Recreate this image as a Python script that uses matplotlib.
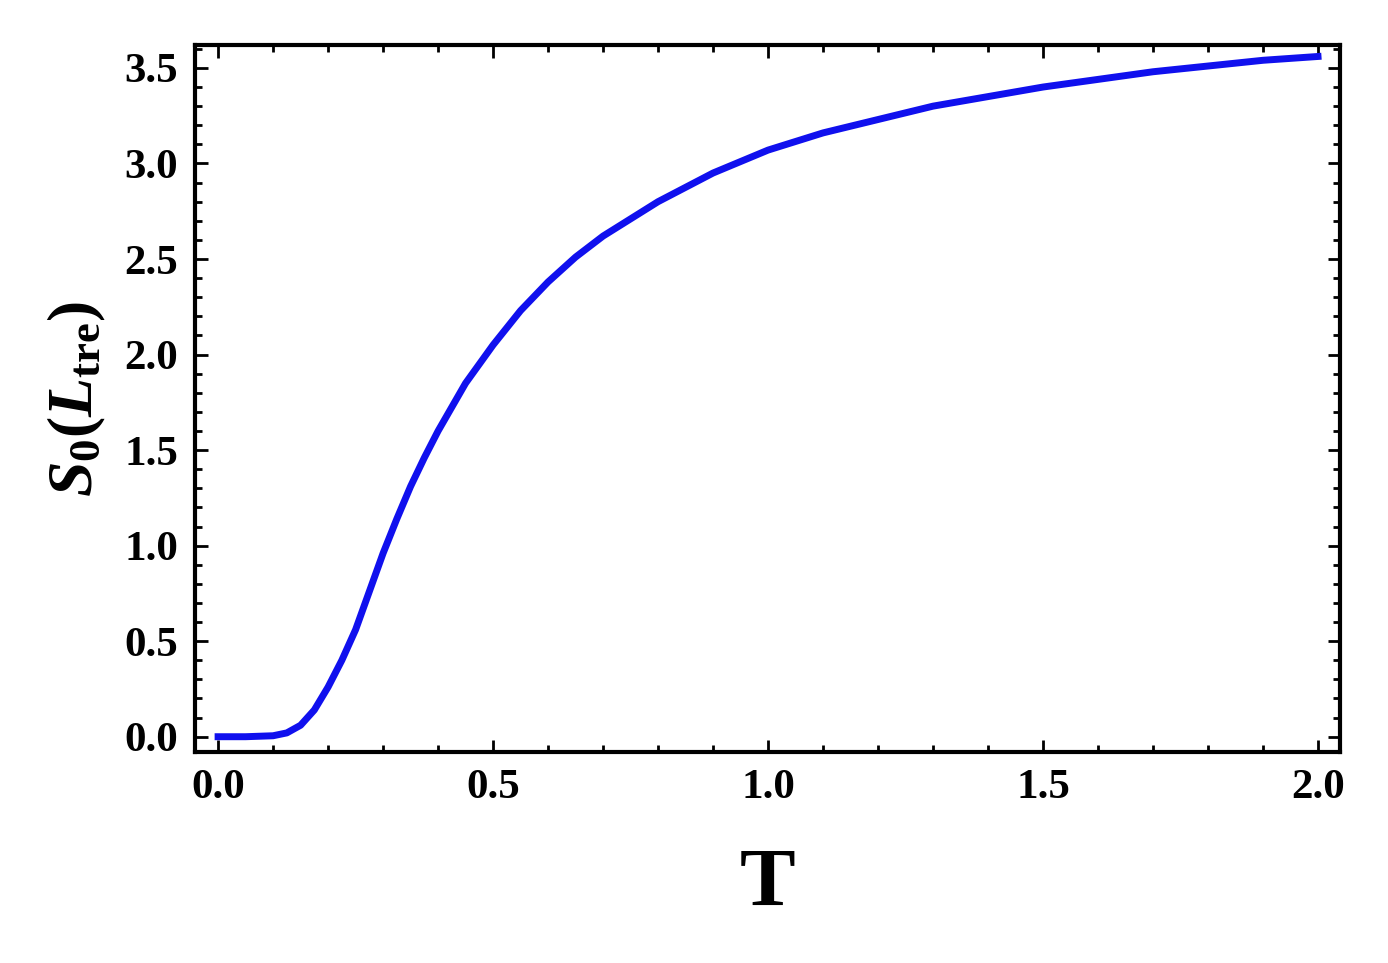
import matplotlib.pyplot as plt
from matplotlib.ticker import MultipleLocator

plt.rcParams["font.family"] = ["Liberation Serif", "DejaVu Serif"]
plt.rcParams["mathtext.fontset"] = "custom"
plt.rcParams["mathtext.rm"] = "Liberation Serif:bold"
plt.rcParams["mathtext.it"] = "Liberation Serif:bold:italic"
plt.rcParams["mathtext.bf"] = "Liberation Serif:bold"

# values
T = [0.0, 0.05, 0.1, 0.125, 0.15, 0.175, 0.2, 0.225, 0.25, 0.275, 0.3, 0.325,
     0.35, 0.375, 0.4, 0.45, 0.5, 0.55, 0.6, 0.65, 0.7, 0.8, 0.9, 1.0,
     1.1, 1.2, 1.3, 1.4, 1.5, 1.6, 1.7, 1.8, 1.9, 2.0]
S0 = [0.0, 0.0, 0.005, 0.02, 0.06, 0.14, 0.26, 0.4, 0.56, 0.76, 0.96, 1.14,
      1.31, 1.46, 1.6, 1.85, 2.05, 2.23, 2.38, 2.51, 2.62, 2.8, 2.95, 3.07,
      3.16, 3.23, 3.3, 3.35, 3.4, 3.44, 3.48, 3.51, 3.54, 3.56]

fig = plt.figure(figsize=(13.88, 9.63), dpi=100)
ax = fig.add_axes([195 / 1388, 1 - 752 / 963, 1145 / 1388, 707 / 963])
ax.plot(T, S0, color="#1010ee", lw=5, solid_joinstyle="round")

ax.set_xlim(-0.042, 2.04)
ax.set_ylim(-0.08, 3.62)
ax.xaxis.set_major_locator(MultipleLocator(0.5))
ax.xaxis.set_minor_locator(MultipleLocator(0.1))
ax.yaxis.set_major_locator(MultipleLocator(0.5))
ax.yaxis.set_minor_locator(MultipleLocator(0.1))
ax.tick_params(which="both", direction="in", top=True, right=True, width=2)
ax.tick_params(which="major", length=9, labelsize=31, pad=12)
ax.tick_params(which="minor", length=5)
ax.xaxis.set_major_formatter(plt.FuncFormatter(lambda v, p: f"{v:.1f}"))
ax.yaxis.set_major_formatter(plt.FuncFormatter(lambda v, p: f"{v:.1f}"))
for lbl in ax.get_xticklabels() + ax.get_yticklabels():
    lbl.set_fontweight("bold")
for s in ax.spines.values():
    s.set_linewidth(3)

ax.set_xlabel("T", fontsize=60, fontweight="bold", labelpad=30)
ax.set_ylabel(r"$S_0(L_{\mathrm{tre}})$", fontsize=46, labelpad=12)

fig.savefig("out.png", dpi=100)
